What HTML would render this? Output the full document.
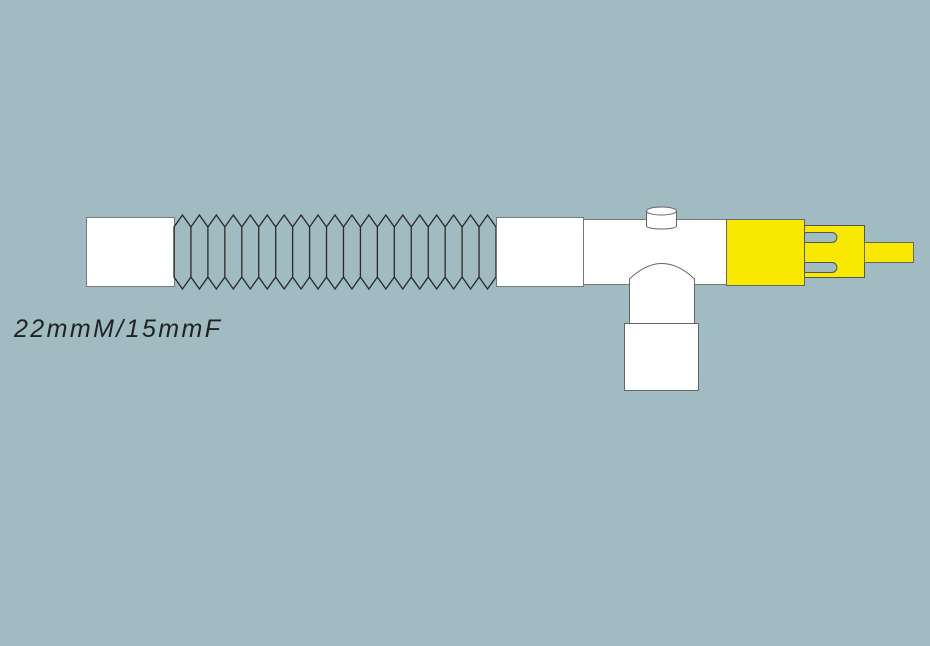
<!DOCTYPE html>
<html><head><meta charset="utf-8"><style>
html,body{margin:0;padding:0;background:#a0bbc1;width:930px;height:646px;overflow:hidden}
svg{display:block}
</style></head><body>
<svg width="930" height="646" viewBox="0 0 930 646">
<rect x="0" y="0" width="930" height="646" fill="#a0bbc1"/>
<rect x="86.5" y="217.5" width="88" height="69" fill="#fff" stroke="#777"/>
<g id="bellows" fill="none" stroke="#2a2a2a" stroke-width="1.3"></g>
<rect x="496.5" y="217.5" width="87" height="69" fill="#fff" stroke="#777"/>
<rect x="583.5" y="219.5" width="143" height="65" fill="#fff" stroke="#777"/>
<g>
<path d="M646.5 211 V226 A15 3 0 0 0 676.5 226 V211" fill="#fff" stroke="#666"/>
<ellipse cx="661.5" cy="211" rx="15" ry="4" fill="#fff" stroke="#666"/>
</g>
<path d="M629.5 324 V279 Q662 248 694.5 279 V324" fill="#fff" stroke="#666"/>
<rect x="624.5" y="323.5" width="74" height="67" fill="#fff" stroke="#666"/>
<rect x="726.5" y="219.5" width="78" height="66" fill="#f9e900" stroke="#666"/>
<rect x="804.5" y="225.5" width="60" height="52" fill="#f9e900" stroke="#555"/>
<path d="M805 232.5 H832 A5 5 0 0 1 832 242.5 H805" fill="#a0bbc1" stroke="#555"/>
<path d="M805 262.5 H832 A5 5 0 0 1 832 272.5 H805" fill="#a0bbc1" stroke="#555"/>
<rect x="864.5" y="242.5" width="49" height="20" fill="#f9e900" stroke="#666"/>
<text x="14" y="337" font-family="Liberation Sans, sans-serif" font-style="italic" font-size="25" textLength="206" lengthAdjust="spacing" fill="#222">22mmM/15mmF</text>
</svg>
<script>
const g=document.getElementById('bellows');
const x0=174,x1=496,n=19,w=(x1-x0)/n;
let d='';
for(let i=0;i<n;i++){
 const a=x0+i*w,b=a+w,m=a+w/2;
 d+=`M${a} 227 L${m} 215 L${b} 227 L${b} 277 L${m} 289 L${a} 277 Z `;
}
const p=document.createElementNS('http://www.w3.org/2000/svg','path');
p.setAttribute('d',d);


g.appendChild(p);
</script>
</body></html>
